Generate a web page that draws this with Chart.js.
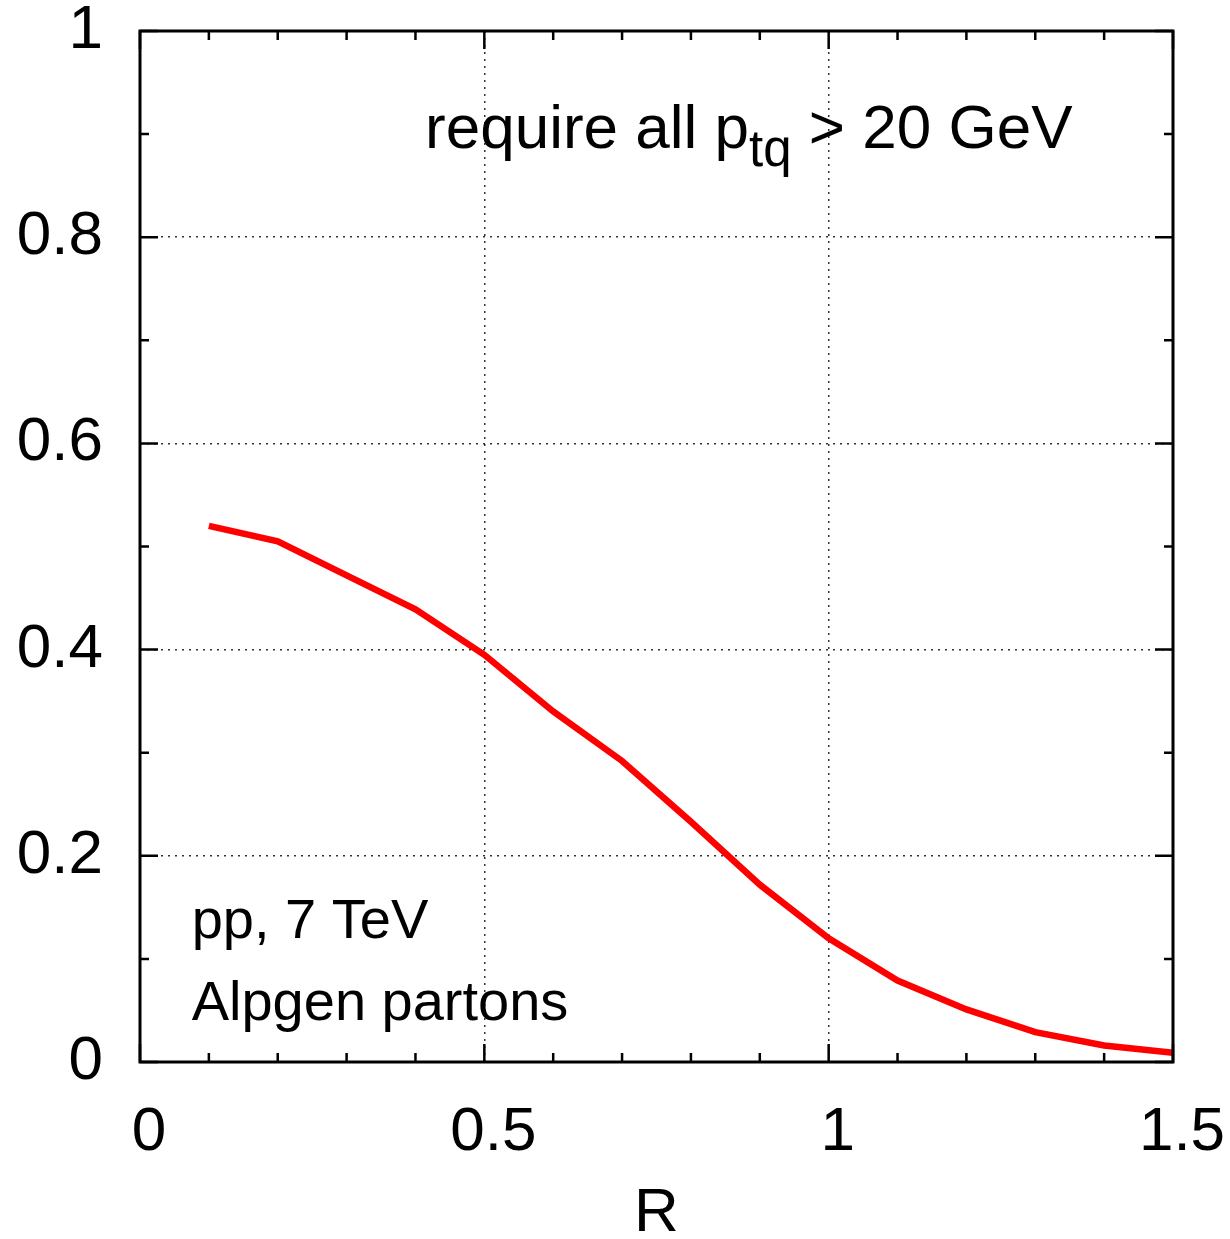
<!DOCTYPE html>
<html>
<head>
<meta charset="utf-8">
<script src="https://cdn.jsdelivr.net/npm/chart.js@4/dist/chart.umd.min.js"></script>
<style>
body { margin: 0; background: #fff; }
#wrap { width: 1230px; height: 1239px; position: relative; }
</style>
</head>
<body>
<div id="wrap"><canvas id="chart"></canvas></div>
<script>
// data
const rValues = [0.1, 0.2, 0.3, 0.4, 0.5, 0.6, 0.7, 0.8, 0.9, 1.0, 1.1, 1.2, 1.3, 1.4, 1.5]
const fraction = [0.520, 0.505, 0.472, 0.439, 0.395, 0.340, 0.292, 0.233, 0.172, 0.120, 0.079, 0.051, 0.029, 0.016, 0.009]

// axis ticks
const xTicks = [0, 0.5, 1, 1.5]
const yTicks = [0, 0.2, 0.4, 0.6, 0.8, 1]
const xMinor = [0, 0.1, 0.2, 0.3, 0.4, 0.5, 0.6, 0.7, 0.8, 0.9, 1.0, 1.1, 1.2, 1.3, 1.4, 1.5]
const yMinor = [0, 0.1, 0.2, 0.3, 0.4, 0.5, 0.6, 0.7, 0.8, 0.9, 1.0]

const FONT = '"Liberation Sans", Arial, Helvetica, sans-serif'

const points = rValues.map((r, i) => ({ x: r, y: fraction[i] }))

const isMajor = (v, step) => Math.abs(v / step - Math.round(v / step)) < 1e-6

// no extra room for labels that hang over the plot edges
const noPad = s => { s.paddingTop = 0; s.paddingBottom = 0; s.paddingLeft = 0; s.paddingRight = 0 }

// frame, inward ticks and the labels inside the plot
const framePlugin = {
  id: 'frame',
  afterDraw(chart) {
    const ctx = chart.ctx
    const a = chart.chartArea
    const xs = chart.scales.x
    const ys = chart.scales.y

    ctx.save()
    ctx.strokeStyle = '#000'
    ctx.lineWidth = 2.5
    ctx.beginPath()
    xMinor.forEach(v => {
      const px = xs.getPixelForValue(v)
      const len = isMajor(v, 0.5) ? 18 : 9
      ctx.moveTo(px, a.bottom); ctx.lineTo(px, a.bottom - len)
      ctx.moveTo(px, a.top); ctx.lineTo(px, a.top + len)
    })
    yMinor.forEach(v => {
      const py = ys.getPixelForValue(v)
      const len = isMajor(v, 0.2) ? 18 : 9
      ctx.moveTo(a.left, py); ctx.lineTo(a.left + len, py)
      ctx.moveTo(a.right, py); ctx.lineTo(a.right - len, py)
    })
    ctx.stroke()

    ctx.lineWidth = 3
    ctx.strokeRect(a.left, a.top, a.right - a.left, a.bottom - a.top)

    // text
    ctx.fillStyle = '#000'
    ctx.textBaseline = 'alphabetic'
    ctx.textAlign = 'left'

    let x = xs.getPixelForValue(0.414)
    const base = ys.getPixelForValue(0.887)
    ctx.font = '62px ' + FONT
    ctx.fillText('require all p', x, base)
    x += ctx.measureText('require all p').width
    ctx.font = '51px ' + FONT
    ctx.fillText('tq', x, base + 18)
    x += ctx.measureText('tq').width
    ctx.font = '62px ' + FONT
    ctx.fillText(' > 20 GeV', x, base)

    ctx.font = '56px ' + FONT
    const lx = xs.getPixelForValue(0.075)
    ctx.fillText('pp, 7 TeV', lx, ys.getPixelForValue(0.120))
    ctx.fillText('Alpgen partons', lx, ys.getPixelForValue(0.041))
    ctx.restore()
  }
}

new Chart(document.getElementById('chart'), {
  type: 'line',
  data: {
    datasets: [{
      data: points,
      borderColor: '#ff0000',
      borderWidth: 6.5,
      pointRadius: 0,
      tension: 0,
      fill: false
    }]
  },
  options: {
    responsive: true,
    maintainAspectRatio: false,
    animation: false,
    layout: { padding: { left: 0, top: 31, right: 57, bottom: 0 } },
    plugins: { legend: { display: false }, tooltip: { enabled: false } },
    scales: {
      x: {
        type: 'linear',
        min: 0,
        max: 1.5,
        afterFit: s => { s.height = 177; noPad(s) },
        afterBuildTicks: s => { s.ticks = xTicks.map(v => ({ value: v })) },
        ticks: {
          autoSkip: false,
          maxRotation: 0,
          padding: 34,
          labelOffset: 9,
          color: '#000',
          font: { family: FONT, size: 62 },
          callback: v => String(v)
        },
        grid: {
          drawTicks: false,
          color: c => (c.tick && (c.tick.value === 0 || c.tick.value === 1.5)) ? 'rgba(0,0,0,0)' : 'rgba(0,0,0,0.8)',
          lineWidth: 1.5
        },
        border: { display: false, dash: [2, 5] },
        title: {
          display: true,
          text: 'R',
          color: '#000',
          font: { family: FONT, size: 62, lineHeight: 0.8 },
          padding: { top: 0, bottom: 0 }
        }
      },
      y: {
        type: 'linear',
        min: 0,
        max: 1,
        afterFit: s => { s.width = 140; noPad(s) },
        afterBuildTicks: s => { s.ticks = yTicks.map(v => ({ value: v })) },
        ticks: {
          autoSkip: false,
          padding: 37,
          color: '#000',
          font: { family: FONT, size: 62 },
          callback: v => String(Number(v.toFixed(1)))
        },
        grid: {
          drawTicks: false,
          color: c => (c.tick && (c.tick.value === 0 || c.tick.value === 1)) ? 'rgba(0,0,0,0)' : 'rgba(0,0,0,0.8)',
          lineWidth: 1.5
        },
        border: { display: false, dash: [2, 5] }
      }
    }
  },
  plugins: [framePlugin]
})
</script>
</body>
</html>
